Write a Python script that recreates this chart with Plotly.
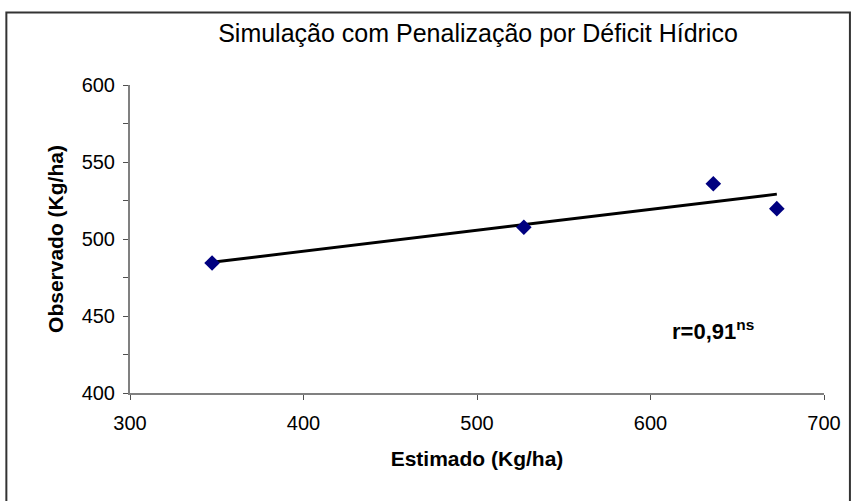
import numpy as np
import plotly.graph_objects as go

# Data
estimado = [347.3, 527.0, 636.2, 672.8]
observado = [484.4, 507.6, 535.9, 519.7]
x_ticks = [300, 400, 500, 600, 700]
y_ticks = [400, 450, 500, 550, 600]

title = "Simulação com Penalização por Déficit Hídrico"
x_title = "Estimado (Kg/ha)"
y_title = "Observado (Kg/ha)"
r_label = "<b>r=0,91<sup>ns</sup></b>"

# Linear trendline (least squares fit of the data)
slope, intercept = np.polyfit(estimado, observado, 1)
tx = [min(estimado), max(estimado)]
ty = [slope * v + intercept for v in tx]

W, H = 853, 501
L, R, T, B = 130, 27, 85, 108

fig = go.Figure()
fig.add_trace(go.Scatter(x=tx, y=ty, mode="lines",
                         line=dict(color="black", width=3), showlegend=False,
                         hoverinfo="skip"))
fig.add_trace(go.Scatter(x=estimado, y=observado, mode="markers",
                         marker=dict(symbol="diamond", size=12, color="#000080",
                                     line=dict(width=0)),
                         showlegend=False))

fig.update_layout(
    width=W, height=H,
    margin=dict(l=L, r=R, t=T, b=B, pad=0),
    paper_bgcolor="white", plot_bgcolor="white",
    font=dict(family="Liberation Sans, Arial, sans-serif", color="black", size=20),
    title=dict(text=title, x=(L + (W - L - R) / 2) / W, xanchor="center",
               y=1 - 33 / H, yanchor="middle",
               font=dict(size=25, color="black")),
    xaxis=dict(range=[300, 700], tickvals=x_ticks, showgrid=False, zeroline=False,
               showline=True, linecolor="#808080", linewidth=2,
               ticks="outside", ticklen=5, tickcolor="#505050", tickwidth=1,
               tickfont=dict(size=20), ticklabelstandoff=6,
               title=dict(text="<b>" + x_title + "</b>", font=dict(size=21), standoff=18)),
    yaxis=dict(range=[400, 600], tickvals=y_ticks, showgrid=False, zeroline=False,
               showline=True, linecolor="#808080", linewidth=2,
               ticks="outside", ticklen=5, tickcolor="#505050", tickwidth=1,
               tickfont=dict(size=20), ticklabelstandoff=4,
               minor=dict(ticks="outside", ticklen=5, dtick=25, tickcolor="#505050",
                          showgrid=False),
               title=dict(text="<b>" + y_title + "</b>", font=dict(size=21), standoff=12)),
    annotations=[dict(text=r_label, x=611, y=441, xref="x", yref="y",
                      xanchor="left", yanchor="middle", showarrow=False,
                      font=dict(size=22, color="black"))],
    shapes=[dict(type="rect", xref="paper", yref="paper",
                 x0=(6 - L) / (W - L - R), x1=(852 - L) / (W - L - R),
                 y0=(H - B - 515) / (H - T - B), y1=(H - B - 12.5) / (H - T - B),
                 line=dict(color="#333333", width=2), fillcolor="rgba(0,0,0,0)",
                 layer="above")],
)

fig.write_html("out.html")
